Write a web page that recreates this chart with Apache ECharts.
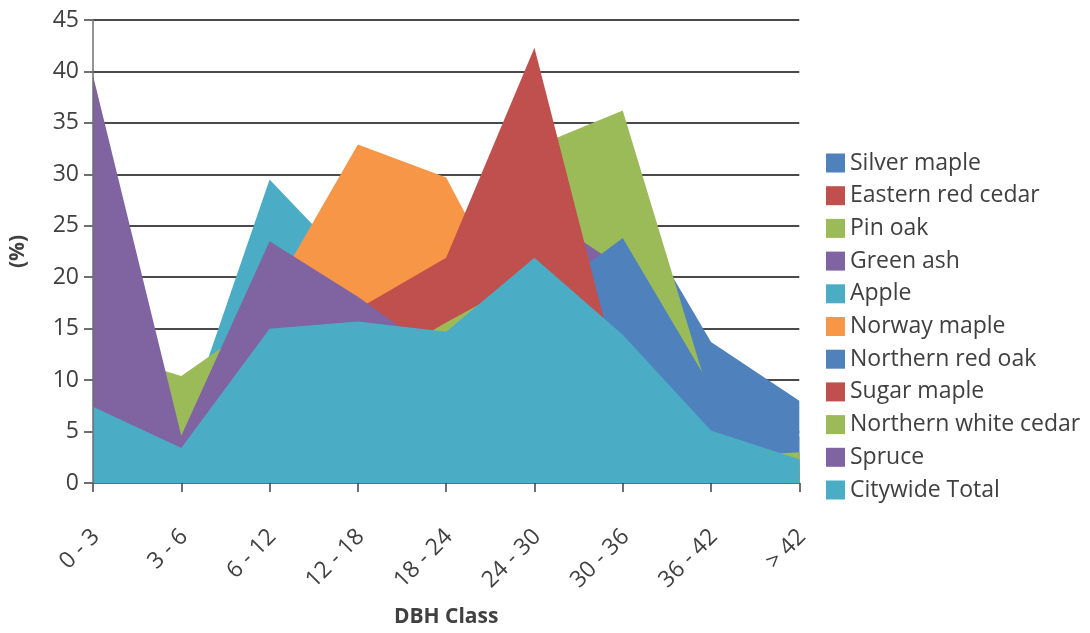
<!DOCTYPE html>
<html>
<head>
<meta charset="utf-8">
<title>DBH Class distribution</title>
<script src="https://cdn.jsdelivr.net/npm/echarts@6/dist/echarts.min.js"></script>
<style>
  html, body { margin: 0; padding: 0; background: #ffffff; }
  #chart { width: 1090px; height: 633px; }
</style>
</head>
<body>
<div id="chart"></div>
<script>
// DBH classes (inches)
const categories = ['0 - 3', '3 - 6', '6 - 12', '12 - 18', '18 - 24', '24 - 30', '30 - 36', '36 - 42', '> 42'];

// Percent of each species' trees per DBH class
const silverMaple        = [1, 2, 4, 8, 12, 23, 28.3, 13.7, 8];
const easternRedCedar    = [3, 6, 10, 14, 15, 22, 18, 9, 3];
const pinOak             = [2, 3, 5, 5, 6.75, 32.65, 36.2, 7.9, 1.5];
const greenAsh           = [5, 6, 12, 11, 10.5, 26.6, 20.9, 6, 2];
const apple              = [10, 4.5, 29.5, 20.5, 14, 10, 6, 3.5, 2];
const norwayMaple        = [0.5, 1.2, 18, 32.9, 29.7, 13.5, 3.5, 0.7, 0];
const northernRedOak     = [2, 4, 10, 14, 15, 17.4, 23.8, 9.3, 4.5];
const sugarMaple         = [1, 2, 5, 16.9, 21.9, 42.3, 8.8, 1.5, 0.5];
const northernWhiteCedar = [13, 10.4, 16.4, 10.6, 15.6, 20.3, 8.2, 2.5, 3.0];
const spruce             = [39.6, 4.6, 23.5, 18.1, 12.0, 1.5, 0.7, 0, 0];
const citywideTotal      = [7.4, 3.4, 15.0, 15.7, 14.7, 21.9, 14.4, 5.1, 2.3];

// Value axis ticks
const yTicks = { min: 0, max: 45, interval: 5 };

// Drawn back to front: later entries cover earlier ones
const seriesList = [
  { name: 'Silver maple',         data: silverMaple,        color: '#4F81BD' },
  { name: 'Eastern red cedar',    data: easternRedCedar,    color: '#C0504D' },
  { name: 'Pin oak',              data: pinOak,             color: '#9BBB59' },
  { name: 'Green ash',            data: greenAsh,           color: '#8064A2' },
  { name: 'Apple',                data: apple,              color: '#4BACC6' },
  { name: 'Norway maple',         data: norwayMaple,        color: '#F79646' },
  { name: 'Northern red oak',     data: northernRedOak,     color: '#4F81BD' },
  { name: 'Sugar maple',          data: sugarMaple,         color: '#C0504D' },
  { name: 'Northern white cedar', data: northernWhiteCedar, color: '#9BBB59' },
  { name: 'Spruce',               data: spruce,             color: '#8064A2' },
  { name: 'Citywide Total',       data: citywideTotal,      color: '#4BACC6' }
];

const FONT = '"Open Sans", "Noto Sans", sans-serif';
const TEXT = '#404040';

const chart = echarts.init(document.getElementById('chart'), null, { renderer: 'canvas' });

chart.setOption({
  animation: false,
  backgroundColor: '#ffffff',
  textStyle: { fontFamily: FONT, color: TEXT },
  grid: { left: 89.3, right: 290.7, top: 20, bottom: 136.3, containLabel: false },
  legend: {
    orient: 'vertical',
    left: 826,
    top: 151.5,
    padding: 0,
    icon: 'rect',
    itemWidth: 19,
    itemHeight: 19,
    itemGap: 9.7,
    selectedMode: false,
    data: seriesList.map(s => s.name),
    textStyle: { fontFamily: FONT, fontSize: 23, color: TEXT }
  },
  xAxis: {
    type: 'category',
    data: categories,
    boundaryGap: false,
    name: 'DBH Class',
    nameLocation: 'middle',
    nameGap: 124,
    nameTextStyle: { fontFamily: FONT, fontSize: 21, fontWeight: 'bold', color: TEXT },
    axisLine: { show: true, lineStyle: { color: '#7a7a7a', width: 1.5 } },
    axisTick: { show: true, alignWithLabel: true, length: 9, lineStyle: { color: '#404040', width: 1.5 } },
    axisLabel: {
      rotate: 45,
      margin: 53,
      padding: [0, -4, 0, 0],
      fontFamily: FONT,
      fontSize: 23,
      color: TEXT,
      interval: 0
    },
    splitLine: { show: false }
  },
  yAxis: [
    {
      type: 'value',
      min: yTicks.min,
      max: yTicks.max,
      interval: yTicks.interval,
      name: '(%)',
      nameLocation: 'middle',
      nameGap: 64,
      nameRotate: 90,
      nameTextStyle: { fontFamily: FONT, fontSize: 21, fontWeight: 'bold', color: TEXT },
      axisLine: { show: false },
      axisTick: { show: true, length: 9, lineStyle: { color: '#404040', width: 1.5 } },
      axisLabel: { margin: 14, fontFamily: FONT, fontSize: 23, color: TEXT },
      splitLine: { show: true, lineStyle: { color: '#4a4a4a', width: 2 } }
    },
    {
      // axis line drawn over the filled areas
      type: 'value',
      min: yTicks.min,
      max: yTicks.max,
      interval: yTicks.interval,
      position: 'left',
      z: 10,
      axisLine: { show: true, lineStyle: { color: '#6e6e6e', width: 1.5 } },
      axisTick: { show: false },
      axisLabel: { show: false },
      splitLine: { show: false }
    }
  ],
  series: seriesList.map(s => ({
    name: s.name,
    type: 'line',
    data: s.data,
    color: s.color,
    showSymbol: false,
    symbol: 'none',
    smooth: false,
    lineStyle: { width: 0, color: s.color },
    areaStyle: { color: s.color, opacity: 1 },
    itemStyle: { color: s.color },
    emphasis: { disabled: true },
    silent: true
  }))
});
</script>
</body>
</html>
